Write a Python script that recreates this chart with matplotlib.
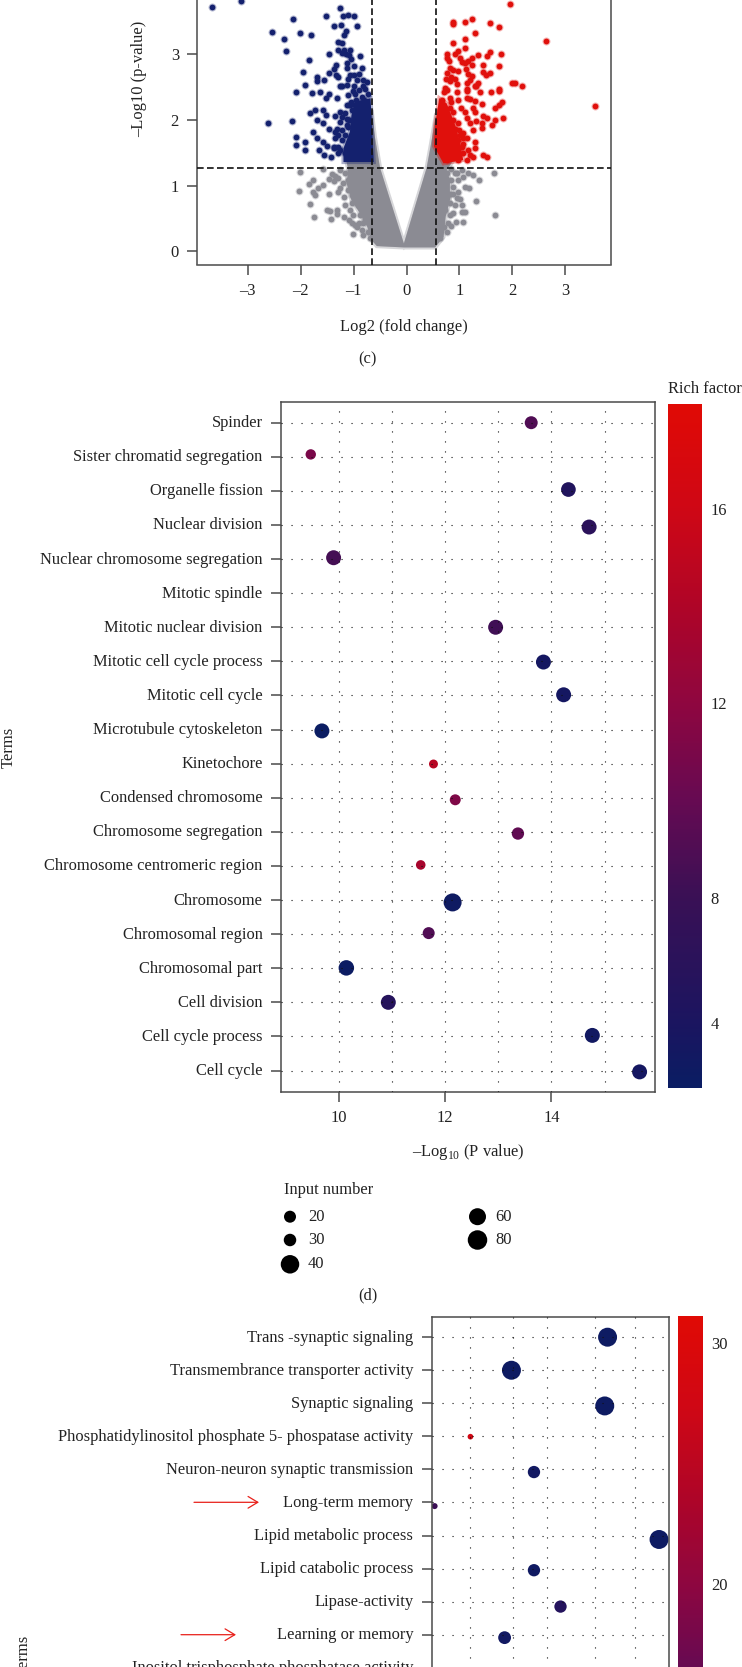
import numpy as np
import matplotlib
matplotlib.use('Agg')
import matplotlib.pyplot as plt
from matplotlib.colors import LinearSegmentedColormap, Normalize
from matplotlib.cm import ScalarMappable
from matplotlib.transforms import ScaledTranslation

W, H = 742, 1667

# volcano plot, values
blue_x = [-3.67, -3.12, -1.26, -1.52, -1.21, -1.10, -0.99, -2.15, -1.38, -1.23, -0.94, -2.55, -2.01, -1.81, -2.32,
          -1.15, -1.19, -1.29, -1.22, -1.30, -1.19, -1.07, -1.22, -1.15, -1.09, -1.47, -2.28, -0.88, -1.05, -1.84,
          -1.13, -1.33, -1.12, -0.99, -0.85, -1.37, -1.47, -1.96, -1.33, -1.29, -1.07, -0.99, -0.89, -1.10, -0.94,
          -0.82, -1.69, -1.69, -1.56, -1.91, -1.26, -1.13, -0.99, -0.82, -2.09, -1.79, -1.64, -1.46, -1.53, -1.32,
          -1.22, -1.10, -0.97, -0.85, -0.72, -1.73, -1.82, -1.57, -1.53, -1.35, -1.26, -1.13, -1.70, -1.57, -1.46,
          -1.26, -1.12, -2.62, -2.16, -1.77, -1.69, -2.08, -2.08, -1.91, -1.92, -1.57, -1.50, -1.65, -1.37, -1.29,
          -1.22, -1.10, -1.35, -1.07, -1.26, -1.56, -1.43, -0.78, -0.90, -1.02, -0.80, -0.95, -1.05, -0.75,
          -1.32, -1.35, -1.22, -1.38, -1.29, -1.16, -1.13, -1.08, -1.04, -1.07, -0.97, -1.16, -1.29, -1.10, -1.16,
          -1.22]
blue_y = [3.72, 3.81, 3.71, 3.58, 3.58, 3.60, 3.59, 3.54, 3.43, 3.44, 3.43, 3.34, 3.32, 3.29, 3.24,
          3.35, 3.30, 3.19, 3.17, 3.07, 3.06, 3.06, 3.02, 3.00, 2.99, 3.01, 3.05, 2.97, 2.93, 2.91,
          2.86, 2.84, 2.79, 2.82, 2.79, 2.77, 2.72, 2.73, 2.69, 2.65, 2.69, 2.68, 2.70, 2.62, 2.61,
          2.61, 2.66, 2.60, 2.61, 2.53, 2.51, 2.53, 2.52, 2.52, 2.42, 2.41, 2.42, 2.39, 2.34, 2.33,
          2.51, 2.38, 2.40, 2.35, 2.40, 2.15, 2.10, 2.15, 2.07, 2.06, 2.12, 2.23, 2.00, 1.95, 1.87,
          1.97, 2.02, 1.96, 1.98, 1.82, 1.72, 1.74, 1.62, 1.66, 1.54, 1.66, 1.60, 1.54, 1.57, 1.77,
          1.85, 1.90, 1.82, 1.67, 1.54, 1.46, 1.44, 2.47, 2.45, 2.44, 2.30, 2.30, 2.27, 2.58,
          1.87, 1.72, 1.69, 1.59, 1.59, 1.77, 1.92, 2.00, 2.15, 2.23, 2.23, 1.49, 1.49, 1.52, 2.10,
          2.05]
red_x = [1.96, 0.87, 0.88, 1.11, 1.23, 1.57, 1.75, 1.30, 1.11, 0.87, 2.64, 1.11, 0.76, 0.77, 0.81, 0.98, 0.92, 1.36,
         1.58, 1.53, 1.79, 1.01, 1.04, 1.23, 1.17, 1.24, 1.11, 1.45, 1.75, 0.82, 0.88, 0.76, 0.98, 1.12, 1.45, 1.58,
         1.50, 1.17, 1.23, 0.85, 0.75, 0.82, 0.92, 0.96, 1.14, 1.20, 1.35, 1.29, 1.99, 2.05, 2.18, 0.73, 1.74, 1.14,
         3.56, 0.70, 0.76, 0.95, 1.14, 1.39, 1.60, 1.75, 1.31, 1.14, 0.98, 0.85, 1.20, 1.29, 1.42, 1.80, 1.74, 1.67,
         1.03, 1.11, 1.25, 1.29, 0.88, 1.44, 1.53, 1.83, 1.67, 1.62, 1.42, 1.42, 1.31, 1.15, 1.20, 1.25, 1.07, 1.07,
         1.00, 1.29, 1.29, 1.04, 1.20, 1.44, 1.52,
         0.63, 0.82, 0.76, 0.88, 0.98, 0.92, 1.01, 0.88, 0.82, 0.67, 0.98, 1.07, 1.14, 0.95, 1.07, 1.17, 0.88, 0.76,
         0.98, 1.14, 1.26]
red_y = [3.76, 3.46, 3.49, 3.49, 3.53, 3.48, 3.42, 3.32, 3.23, 3.17, 3.21, 3.10, 3.00, 2.94, 2.90, 3.05, 3.01, 2.99,
         3.04, 2.98, 3.00, 2.94, 2.88, 2.94, 2.90, 2.83, 2.86, 2.83, 2.82, 2.79, 2.76, 2.72, 2.75, 2.77, 2.73, 2.72,
         2.68, 2.70, 2.67, 2.66, 2.62, 2.60, 2.63, 2.55, 2.57, 2.61, 2.57, 2.51, 2.57, 2.57, 2.52, 2.48, 2.47, 2.47,
         2.21, 2.43, 2.46, 2.42, 2.44, 2.42, 2.42, 2.44, 2.51, 2.34, 2.30, 2.28, 2.32, 2.29, 2.25, 2.27, 2.23, 2.19,
         2.19, 2.12, 2.18, 2.12, 2.12, 2.06, 2.03, 2.03, 2.00, 1.93, 1.95, 1.88, 1.99, 2.03, 1.96, 1.85, 1.80, 1.72,
         1.85, 1.67, 1.58, 1.59, 1.46, 1.46, 1.43,
         2.15, 2.18, 2.07, 2.00, 1.95, 1.87, 1.77, 1.77, 2.33, 2.30, 1.69, 1.64, 1.72, 1.57, 1.49, 1.54, 1.44, 1.39,
         1.39, 1.39, 1.44]
gray_x = [-2.03, -1.84, -1.76, -1.76, -1.73, -1.67, -1.58, -1.46, -1.38, -1.41, -1.35, -1.46, -1.29, -1.26, -1.21,
          -1.19, -1.16, -1.82, -1.51, -1.45, -1.32, -1.32, -1.74, -1.43, -1.18, -1.09, -1.04, -0.94, -1.01, -0.82,
          -0.85, -1.04, -1.07, -1.57, -2.01,
          -1.04, -1.10, -0.97, -0.91, -0.85, -1.01, -0.88, -0.78, -0.89, -0.72, -0.82, -0.69, -0.97, -1.10, -1.16,
          -1.26, -1.29, -1.07,
          1.65, 1.37, 1.67, 1.31, 1.11, 1.19, 1.26, 1.17, 1.06, 0.98, 1.01, 1.04, 1.11, 1.04, 0.92, 0.88, 0.93, 1.06,
          0.84, 0.88, 0.85, 0.95,
          0.70, 0.76, 0.82, 0.73, 0.82, 0.88, 0.76, 0.98, 0.79, 0.70, 0.92, 0.85, 1.04, 0.76, 0.82, 0.95, 0.76, 0.63]
gray_y = [0.92, 1.02, 1.09, 0.91, 0.86, 0.97, 1.01, 1.10, 1.07, 1.18, 1.14, 0.87, 0.91, 0.96, 1.04,
          0.83, 0.70, 0.72, 0.63, 0.61, 0.63, 0.57, 0.52, 0.49, 0.53, 0.48, 0.43, 0.37, 0.27, 0.43,
          0.32, 0.73, 0.63, 1.26, 1.21,
          0.86, 0.93, 0.81, 0.70, 0.63, 0.55, 0.55, 0.50, 0.43, 0.30, 0.25, 0.20, 0.40, 1.09, 1.19,
          1.24, 1.11, 1.24,
          1.20, 1.09, 0.56, 0.77, 0.98, 0.97, 1.16, 1.20, 1.13, 0.91, 0.79, 0.70, 0.60, 0.60, 0.70, 0.58, 0.45, 0.44,
          0.39, 0.88, 1.08, 1.19,
          0.93, 0.83, 0.73, 0.63, 0.55, 0.98, 1.09, 1.09, 0.43, 0.37, 1.19, 1.26, 1.24, 1.19, 0.88, 0.81, 0.30, 0.20]

# outlines of the areas where the points merge together
gray_edge_x = [-1.15, -1.10, -1.13, -1.04, -0.88, -0.74, -0.66, -0.56, -0.05, 0.54, 0.70, 0.74, 0.82, 0.82, 0.76,
               0.90, 0.62, 0.55, 0.46, 0.38, -0.05, -0.50, -0.60, -0.66, -0.72]
gray_edge_y = [1.42, 1.24, 1.03, 0.78, 0.58, 0.37, 0.17, 0.08, 0.06, 0.06, 0.22, 0.53, 0.78, 1.08, 1.24,
               1.40, 2.00, 2.05, 1.62, 1.27, 0.12, 1.27, 1.75, 2.15, 2.00]
blue_edge_x = [-0.97, -0.68, -0.62, -1.19, -1.19, -1.07, -1.04]
blue_edge_y = [2.28, 2.33, 1.36, 1.36, 1.57, 1.82, 2.07]
red_edge_x = [0.62, 0.76, 0.92, 1.01, 1.07, 0.70, 0.52, 0.54]
red_edge_y = [2.33, 2.25, 1.92, 1.67, 1.39, 1.34, 1.60, 1.92]

v_lines = [-0.652, 0.556]
h_line = 1.273
c_xticks = [-3, -2, -1, 0, 1, 2, 3]
c_yticks = [0, 1, 2, 3]

# GO terms of panel d, top row first
d_terms = ['Spinder', 'Sister chromatid segregation', 'Organelle fission', 'Nuclear division',
           'Nuclear chromosome segregation', 'Mitotic spindle', 'Mitotic nuclear division',
           'Mitotic cell cycle process', 'Mitotic cell cycle', 'Microtubule cytoskeleton', 'Kinetochore',
           'Condensed chromosome', 'Chromosome segregation', 'Chromosome centromeric region', 'Chromosome',
           'Chromosomal region', 'Chromosomal part', 'Cell division', 'Cell cycle process', 'Cell cycle']
d_logp = [13.62, 9.47, 14.32, 14.71, 9.90, np.nan, 12.95, 13.85, 14.23, 9.68, 11.78, 12.19, 13.37, 11.54, 12.14,
          11.69, 10.14, 10.93, 14.77, 15.66]
d_row = [0.0, -0.07, -0.04, 0.06, -0.04, 0, 0.0, 0.02, -0.02, 0.04, 0.01, 0.06, 0.05, -0.03, 0.07, -0.03, -0.01,
         0.0, -0.03, 0.04]
d_count = [42, 27, 54, 56, 56, np.nan, 56, 56, 56, 56, 20, 30, 38, 23, 81, 36, 60, 56, 56, 56]
d_rich = [9.0, 11.0, 6.0, 6.8, 8.5, np.nan, 8.3, 5.0, 5.0, 4.2, 14.5, 11.2, 9.7, 13.5, 4.5, 9.0, 4.3, 6.3, 4.8, 5.0]

# panel e, cut off by the bottom of the page
e_terms = ['Trans -synaptic signaling', 'Transmembrance transporter activity', 'Synaptic signaling',
           'Phosphatidylinositol phosphate 5- phospatase activity', 'Neuron-neuron synaptic transmission',
           'Long-term memory', 'Lipid metabolic process', 'Lipid catabolic process', 'Lipase-activity',
           'Learning or memory', 'Inositol trisphosphate phosphatase activity']
e_logp = [6.41, 4.02, 6.34, 3.0, 4.58, 2.11, 7.69, 4.58, 5.24, 3.85, np.nan]
e_row = [0.0, 0.0, 0.08, 0.01, 0.08, 0.11, 0.12, 0.05, 0.15, 0.09, 0]
e_count = [90, 90, 90, 8, 38, 9, 90, 38, 38, 41, np.nan]
e_rich = [6.5, 6.5, 6.5, 27.8, 7.0, 13.0, 6.5, 6.8, 9.7, 7.0, np.nan]
e_grid = [3.0, 4.05, 4.91, 6.09, 7.08]

legend_numbers = ['20', '30', '40', '60', '80']
legend_diam = [12, 12.5, 18.5, 17, 19.5]

plt.rcParams['font.family'] = ['Liberation Serif']
plt.rcParams['mathtext.fontset'] = 'custom'
plt.rcParams['mathtext.rm'] = 'Liberation Serif'
plt.rcParams['axes.unicode_minus'] = False

text_color = '#222222'
line_color = '#4a4a4a'
label_size = 11.9
rich_cmap = LinearSegmentedColormap.from_list('rich', [
    (0.0, '#0a1d63'), (0.09, '#1a1560'), (0.28, '#3a1055'), (0.42, '#660a52'),
    (0.56, '#8e0640'), (0.70, '#ae0528'), (0.85, '#cf0715'), (1.0, '#e00a05')])


def axes_px(fig, left, top, right, bottom):
    return fig.add_axes([left / W, 1 - bottom / H, (right - left) / W, (bottom - top) / H])


def area(d_px):
    return (d_px * 0.72) ** 2


def style_axes(ax):
    for s in ax.spines.values():
        s.set_color(line_color)
        s.set_linewidth(1.1)
    ax.tick_params(length=7.2, width=1.1, color=line_color, labelsize=label_size, labelcolor=text_color, pad=6)


def soft_scatter(ax, x, y, color, z):
    # the reference is a blurry scan, so each dot gets a pale halo
    ax.scatter(x, y, s=area(8), color=color, alpha=0.3, linewidths=0, zorder=z)
    ax.scatter(x, y, s=area(5.8), color=color, linewidths=0, zorder=z)


def soft_fill(ax, x, y, color, z):
    ax.fill(x, y, facecolor=color, edgecolor=color, lw=3, alpha=0.35, zorder=z)
    ax.fill(x, y, color=color, lw=0, zorder=z)


def draw_volcano(fig):
    ax = axes_px(fig, 197.3, -60, 610.5, 264.5)
    soft_fill(ax, gray_edge_x, gray_edge_y, '#8b8b93', 1)
    soft_scatter(ax, gray_x, gray_y, '#8b8b93', 1)
    soft_fill(ax, blue_edge_x, blue_edge_y, '#14216e', 2)
    soft_scatter(ax, blue_x, blue_y, '#14216e', 2)
    soft_fill(ax, red_edge_x, red_edge_y, '#e0100c', 2)
    soft_scatter(ax, red_x, red_y, '#e0100c', 2)
    for v in v_lines:
        ax.axvline(v, color='#111111', lw=1.2, dashes=(4, 2), zorder=4)
    ax.axhline(h_line, color='#111111', lw=1.2, dashes=(4, 2), zorder=4)
    ax.set_xlim(-3.955, 3.856)
    ax.set_ylim(-0.2, 4.74)
    ax.set_xticks(c_xticks, [str(t).replace('-', '\u2013') for t in c_xticks])
    ax.set_yticks(c_yticks)
    style_axes(ax)
    ax.spines['top'].set_visible(False)


def draw_terms(fig, ax, terms, logp, row, count, rich, norm):
    ax.scatter(logp, np.array(row) + np.arange(len(terms)), s=area(2 * np.sqrt(np.array(count))),
               c=rich, cmap=rich_cmap, norm=norm, linewidths=0, zorder=2)
    ax.set_yticks(range(len(terms)), terms)
    ax.set_axisbelow(False)
    ax.grid(True, which='both', color='#111111', lw=0.8, linestyle=(0, (1, 8)))
    style_axes(ax)
    ax.tick_params(which='minor', length=0)
    # term names sit a little above their tick in the reference
    up = ScaledTranslation(0, 1.5 / 100, fig.dpi_scale_trans)
    for lbl in ax.get_yticklabels():
        lbl.set_transform(lbl.get_transform() + up)


def draw_cbar(fig, box, norm, ticks, labels):
    cax = axes_px(fig, *box)
    cb = fig.colorbar(ScalarMappable(norm=norm, cmap=rich_cmap), cax=cax)
    cb.outline.set_visible(False)
    cb.set_ticks(ticks, labels=labels)
    cax.tick_params(length=0, labelsize=label_size, labelcolor=text_color, pad=6)


def main():
    fig = plt.figure(figsize=(W / 100, H / 100), dpi=100, facecolor='white')

    draw_volcano(fig)

    # panel d
    d_norm = Normalize(4.1, 18.15)
    ax_d = axes_px(fig, 281, 402, 655, 1092)
    draw_terms(fig, ax_d, d_terms, d_logp, d_row, d_count, d_rich, d_norm)
    ax_d.set_xlim(8.91, 15.95)
    ax_d.set_ylim(19.63, -0.607)
    ax_d.set_xticks([10, 12, 14], ['10', '12', '14'])
    ax_d.set_xticks([11, 13, 15], minor=True)
    draw_cbar(fig, (668, 404, 702, 1088), d_norm, [5.43, 8, 12, 16], ['4', '8', '12', '16'])

    # panel e
    e_norm = Normalize(5.9, 31.1)
    ax_e = axes_px(fig, 431.6, 1316.7, 668.7, 1950)
    draw_terms(fig, ax_e, e_terms, e_logp, e_row, e_count, e_rich, e_norm)
    ax_e.set_xlim(2.035, 7.93)
    ax_e.set_ylim(18.54, -0.62)
    ax_e.set_xticks(e_grid, [''] * len(e_grid))
    draw_cbar(fig, (678, 1316, 703, 1924), e_norm, [20, 30], ['20', '30'])

    # everything placed freely on the page goes on an overlay in pixels
    over = fig.add_axes([0, 0, 1, 1], facecolor='none')
    over.set_xlim(0, W)
    over.set_ylim(H, 0)
    over.axis('off')
    kw = dict(fontsize=label_size, color=text_color, ha='center', va='center')
    over.text(404, 327, 'Log2 (fold change)', **kw)
    over.text(138.7, 79, '\u2013Log10 (p-value)', rotation=90, **kw)
    over.text(367, 359, '(c)', **kw)
    over.text(8.5, 747, 'Terms', rotation=90, **kw)
    over.text(468, 1152, '\u2013Log$_{10}$ (P value)', **kw)
    over.text(368, 1295, '(d)', **kw)
    over.text(668, 389, 'Rich factor', fontsize=label_size, color=text_color, ha='left', va='center')
    over.text(284, 1190, 'Input number', fontsize=label_size, color=text_color, ha='left', va='center')
    over.text(24, 1655, 'Terms', rotation=90, **kw)

    leg_x = [290, 290, 290, 477.5, 477.5]
    leg_y = [1216.7, 1240, 1264.3, 1216.7, 1240]
    over.scatter(leg_x, leg_y, s=[area(d) for d in legend_diam], color='black', linewidths=0)
    for x, y, t in zip(leg_x, leg_y, legend_numbers):
        over.text(x + 18, y, t, fontsize=label_size, color=text_color, ha='left', va='center')

    for x0, x1, y in [(194, 259, 1502.3), (181, 236, 1634.7)]:
        over.annotate('', xy=(x1, y), xytext=(x0, y),
                      arrowprops=dict(arrowstyle='->,head_length=0.5,head_width=0.3', color='#e8201a', lw=0.9,
                                      mutation_scale=14, shrinkA=0, shrinkB=0))

    fig.savefig('out.png', dpi=100)


if __name__ == '__main__':
    main()
